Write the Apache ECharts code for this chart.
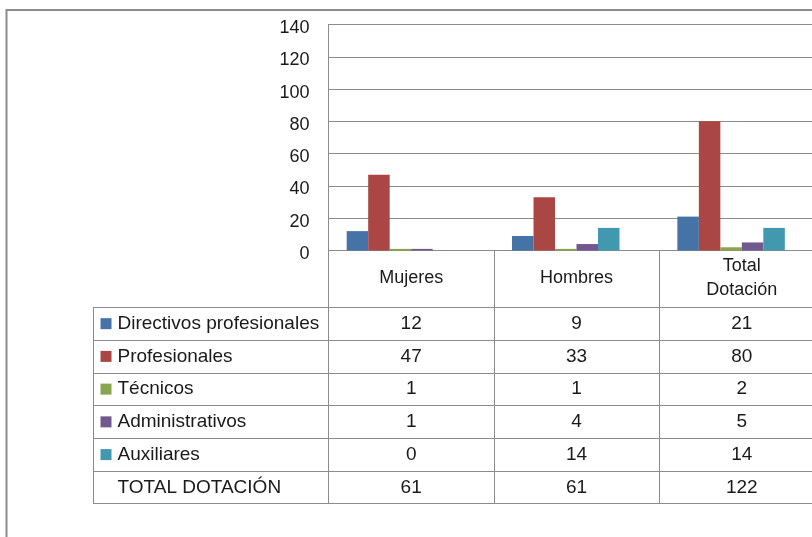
<!DOCTYPE html>
<html>
<head>
<meta charset="utf-8">
<script src="https://cdn.jsdelivr.net/npm/echarts@6/dist/echarts.min.js"></script>
<style>
html,body{margin:0;padding:0;background:#fff;}
#chart{width:812px;height:537px;}
</style>
</head>
<body>
<div id="chart"></div>
<script>
// ---- data ----
const categories = ['Mujeres', 'Hombres', 'Total\nDotación'];
const rowNames = ['Directivos profesionales', 'Profesionales', 'Técnicos', 'Administrativos', 'Auxiliares', 'TOTAL DOTACIÓN'];
const directivos = [12, 9, 21];
const profesionales = [47, 33, 80];
const tecnicos = [1, 1, 2];
const administrativos = [1, 4, 5];
const auxiliares = [0, 14, 14];
const totalDotacion = [61, 61, 122];
const yMin = 0, yMax = 140, yStep = 20;

// ---- styles ----
const colors = ['#4572A7', '#AA4643', '#89A54E', '#71588F', '#4198AF', 'rgba(0,0,0,0)'];
const lineColor = '#8c8c8c';
const textColor = '#1a1a1a';
const font = 'Liberation Sans';

const seriesValues = [directivos, profesionales, tecnicos, administrativos, auxiliares, totalDotacion];

const barSeries = seriesValues.map((vals, i) => ({
  name: rowNames[i],
  type: 'bar',
  xAxisIndex: 0,
  yAxisIndex: 0,
  data: vals,
  barGap: '0%',
  barCategoryGap: '22%',
  itemStyle: { color: colors[i] },
  silent: true
}));

const tableData = [];
seriesValues.forEach((vals, r) => {
  vals.forEach((v, c) => tableData.push([c, r, v]));
});

const rich = {
  t: { fontFamily: font, fontSize: 19, color: textColor, padding: [0, 0, 0, 6] }
};
colors.forEach((c, i) => {
  rich['s' + i] = { width: 11, height: 11, backgroundColor: c };
});

const chart = echarts.init(document.getElementById('chart'), null, { renderer: 'canvas' });
chart.setOption({
  animation: false,
  backgroundColor: '#fff',
  textStyle: { fontFamily: font },
  graphic: [{
    type: 'rect',
    shape: { x: 6.5, y: 10, width: 1000, height: 1000 },
    style: { fill: 'none', stroke: lineColor, lineWidth: 2 },
    silent: true
  }],
  grid: [
    { left: 328.5, top: 24.5, width: 496, height: 226, outerBoundsMode: 'none', containLabel: false },
    { left: 328.5, top: 307.3, width: 496, height: 196.4, outerBoundsMode: 'none', containLabel: false }
  ],
  xAxis: [
    {
      type: 'category', gridIndex: 0, data: categories,
      axisLine: { show: true, lineStyle: { color: lineColor, width: 1 } },
      axisTick: { show: true, length: 57, inside: false, alignWithLabel: false, lineStyle: { color: lineColor } },
      axisLabel: { show: true, interval: 0, margin: 28, verticalAlign: 'middle', fontFamily: font, fontSize: 18, color: textColor, lineHeight: 24 },
      splitLine: { show: false }
    },
    {
      type: 'category', gridIndex: 1, data: categories,
      axisLine: { show: true, lineStyle: { color: lineColor, width: 1 } },
      axisTick: { show: false },
      axisLabel: { show: false },
      splitLine: { show: true, interval: 0, lineStyle: { color: lineColor, width: 1 } }
    }
  ],
  yAxis: [
    {
      type: 'value', gridIndex: 0, min: yMin, max: yMax, interval: yStep,
      axisLine: { show: true, lineStyle: { color: lineColor, width: 1 } },
      axisTick: { show: false },
      axisLabel: {
        margin: 19,
        formatter: v => '{n|' + v + '}',
        rich: { n: { fontFamily: font, fontSize: 18, color: textColor, padding: [7, 0, 0, 0] } }
      },
      splitLine: { show: true, lineStyle: { color: lineColor, width: 1 } }
    },
    {
      type: 'category', gridIndex: 1, data: rowNames, inverse: true, position: 'left',
      axisLine: { show: true, lineStyle: { color: lineColor, width: 1 } },
      axisTick: { show: true, length: 234.8, inside: false, alignWithLabel: false, interval: 0, lineStyle: { color: lineColor } },
      axisLabel: {
        show: true, interval: 0, align: 'left', margin: 228,
        formatter: (value, index) => '{s' + index + '|}{t|' + value + '}',
        rich: rich
      },
      splitLine: { show: true, interval: 0, lineStyle: { color: lineColor, width: 1 } }
    },
    {
      type: 'category', gridIndex: 1, data: rowNames, inverse: true, position: 'left', offset: 234.8,
      axisLine: { show: true, lineStyle: { color: lineColor, width: 1 } },
      axisTick: { show: false },
      axisLabel: { show: false },
      splitLine: { show: false }
    }
  ],
  series: barSeries.concat([{
    type: 'scatter',
    xAxisIndex: 1,
    yAxisIndex: 1,
    data: tableData,
    symbolSize: 1,
    itemStyle: { color: 'rgba(0,0,0,0)', opacity: 1 },
    silent: true,
    label: {
      show: true, position: 'inside',
      formatter: p => String(p.value[2]),
      fontFamily: font, fontSize: 19, color: textColor
    }
  }])
});
</script>
</body>
</html>
